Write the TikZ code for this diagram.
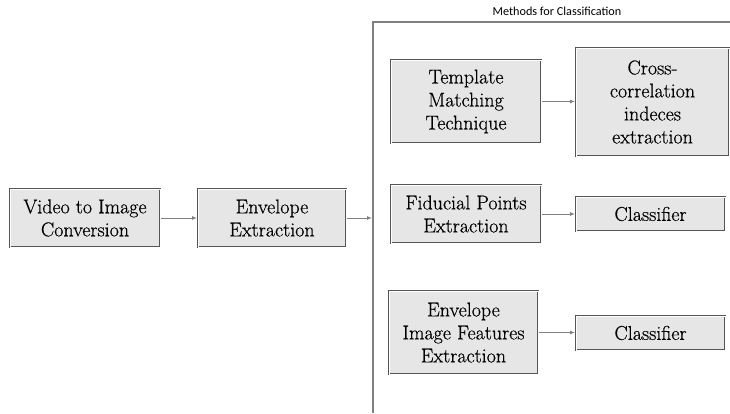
\documentclass[tikz,border=0pt]{standalone}
\usepackage{fontspec}
\newfontfamily\labelfont{Carlito}
\newfontfamily\boxfont{Latin Modern Roman}[FakeBold=0.5]
\usepackage{tikz}
\usetikzlibrary{arrows.meta}
\definecolor{boxfill}{RGB}{230, 230, 230}
\definecolor{boxedge}{RGB}{85, 85, 85}
\definecolor{linkgray}{RGB}{128, 128, 128}
\tikzset{
  stage/.style={draw=boxedge, fill=boxfill, line width=2pt, align=center,
    inner sep=2pt, font=\boxfont\fontsize{20}{23}\selectfont,
    postaction={draw=white, line width=0.5pt}},
  link/.style={-{Latex[length=5pt,width=4pt]}, linkgray, line width=1pt}
}
\begin{document}
\begin{tikzpicture}[x=1pt, y=-1pt]
    \useasboundingbox (0,0) rectangle (730,413);

    %% bracket round the classification methods
    \draw[linkgray, line width=1.5pt] (373,413) -- (373,22) -- (730,22);
    \node[font=\labelfont\fontsize{12.2}{14}\selectfont] (title) at (557,11)
      {Methods for Classification};
    \coordinate (brk) at (372,218);

    %% pre-processing chain
    \node[stage, minimum width=150, minimum height=58] (video) at (85,218)
      {Video to Image\\Conversion};
    \node[stage, minimum width=148, minimum height=58] (env) at (272,218)
      {Envelope\\Extraction};

    %% three methods
    \node[stage, minimum width=150, minimum height=83] (tmpl) at (466,101.5)
      {Template\\Matching\\Technique};
    \node[stage, minimum width=153, minimum height=108] (xcorr) at (652.5,102)
      {Cross-\\correlation\\indeces\\extraction};
    \node[stage, minimum width=150, minimum height=58] (fid) at (466,214)
      {Fiducial Points\\Extraction};
    \node[stage, minimum width=149, minimum height=34] (cls1) at (650.5,214)
      {Classifier};
    \node[stage, minimum width=149, minimum height=83] (eif) at (463.5,332.5)
      {Envelope\\Image Features\\Extraction};
    \node[stage, minimum width=149, minimum height=34] (cls2) at (650.5,333)
      {Classifier};

    %% arrows
    \draw[link] (video) -- (env);
    \draw[link] (env) -- (brk);
    \draw[link] (tmpl) -- (tmpl -| xcorr.west);
    \draw[link] (fid) -- (cls1);
    \draw[link] (eif) -- (eif -| cls2.west);
\end{tikzpicture}
\end{document}
